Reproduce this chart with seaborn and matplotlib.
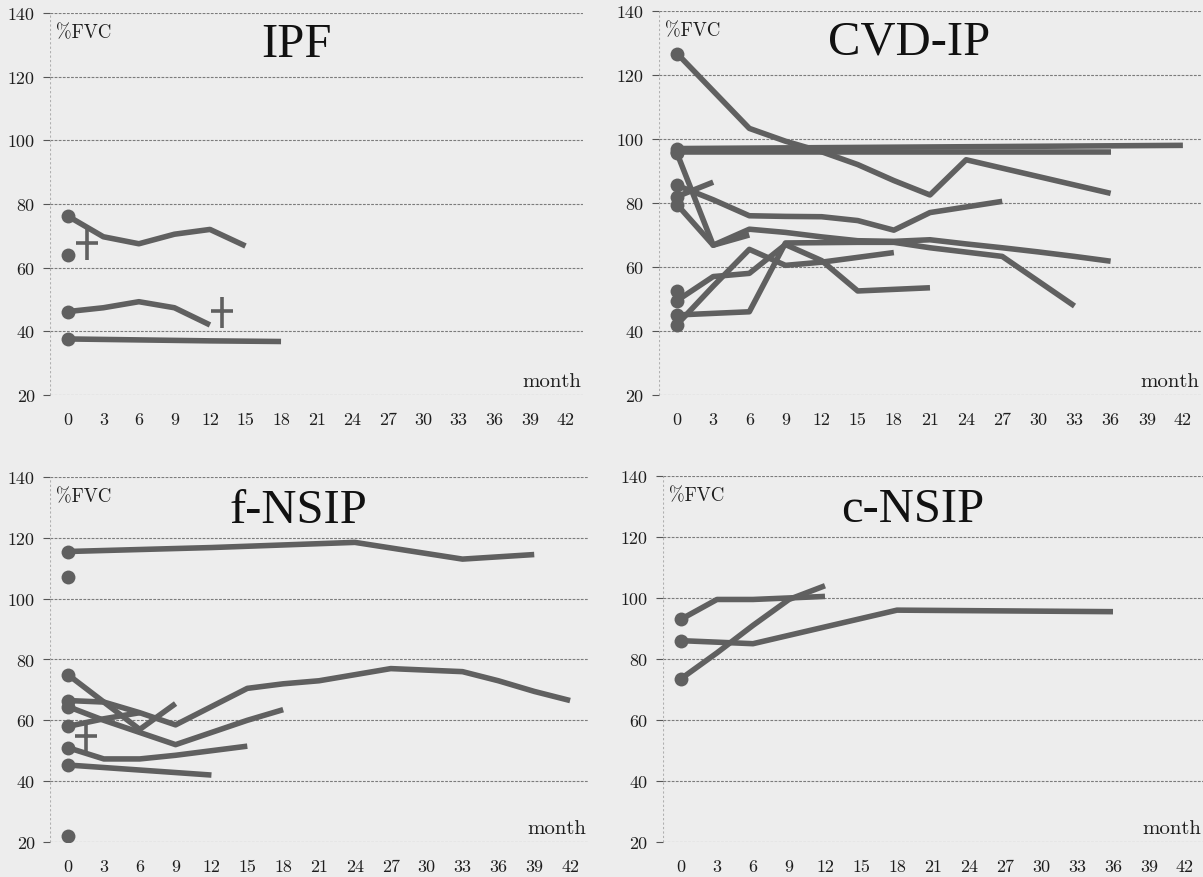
import matplotlib
matplotlib.use("Agg")
import matplotlib.pyplot as plt
from matplotlib.path import Path
import numpy as np
import pandas as pd
import seaborn as sns

# ---------------------------------------------------------------- data
MONTH_TICKS = list(range(0, 43, 3))
FVC_TICKS = [20, 40, 60, 80, 100, 120, 140]
PANEL_TITLES = ["IPF", "CVD-IP", "f-NSIP", "c-NSIP"]

# IPF: one list of months / %FVC per patient
IPF_MONTHS = [[0, 3, 6, 9, 12, 15], [0], [0, 3, 6, 9, 12], [0, 6, 12, 18]]
IPF_FVC = [[76.2, 69.7, 67.5, 70.5, 72.0, 66.8], [64.0],
           [46.2, 47.4, 49.3, 47.4, 42.0], [37.6, 37.3, 37.0, 36.8]]
IPF_DEATH_MONTH = [1.6, 13.0]
IPF_DEATH_FVC = [67.8, 46.3]

# CVD-IP
CVD_MONTHS = [
    [0, 6, 9, 12, 15, 18, 21, 24, 36],
    [0, 42],
    [0, 36],
    [0, 3, 6],
    [0, 3],
    [0, 3, 6, 9, 12, 15, 18, 21, 27],
    [0, 3, 6, 9, 12, 15, 18, 21, 24, 27, 30, 33, 36],
    [0, 3, 6, 9, 12, 15, 18, 21, 27, 33],
    [0, 3, 6, 9, 12, 15, 18, 21],
    [0, 3, 6, 9, 12, 15, 18],
    [0],
]
CVD_FVC = [
    [126.7, 103.3, 99.3, 96.0, 92.0, 87.0, 82.5, 93.5, 83.0],
    [97.0, 98.0],
    [96.0, 96.0],
    [95.5, 66.8, 70.0],
    [82.0, 86.5],
    [85.5, 81.0, 76.0, 75.8, 75.7, 74.5, 71.5, 77.0, 80.5],
    [79.5, 66.8, 71.8, 70.8, 69.4, 68.2, 68.0, 68.5, 67.2, 66.0, 64.7, 63.3, 61.8],
    [45.0, 45.5, 46.0, 67.5, 67.6, 67.7, 67.7, 66.0, 63.3, 47.8],
    [49.5, 57.0, 58.0, 67.0, 62.0, 52.5, 53.0, 53.5],
    [42.0, 54.0, 65.5, 60.5, 61.5, 63.0, 64.5],
    [52.5],
]
CVD_DEATH_MONTH = []
CVD_DEATH_FVC = []

# f-NSIP
FNSIP_MONTHS = [
    [0, 12, 24, 33, 39],
    [0],
    [0, 3, 6, 9],
    [0, 3, 6, 9, 12, 15, 18, 21, 24, 27, 30, 33, 36, 39, 42],
    [0, 3, 6, 9, 12, 15, 18],
    [0, 3, 6],
    [0, 3, 6, 9, 12, 15],
    [0, 12],
    [0],
]
FNSIP_FVC = [
    [115.5, 116.8, 118.5, 113.0, 114.5],
    [107.0],
    [75.0, 66.0, 57.0, 65.5],
    [66.5, 66.0, 62.5, 58.5, 64.5, 70.5, 72.0, 73.0, 75.0, 77.0, 76.5, 76.0, 73.0, 69.5, 66.5],
    [64.5, 60.0, 56.0, 52.0, 56.0, 60.0, 63.5],
    [58.0, 60.5, 62.5],
    [51.0, 47.3, 47.3, 48.5, 50.0, 51.5],
    [45.3, 42.0],
    [22.0],
]
FNSIP_DEATH_MONTH = [1.5]
FNSIP_DEATH_FVC = [55.0]

# c-NSIP
CNSIP_MONTHS = [[0, 3, 6, 9, 12], [0, 6, 18, 36], [0, 3, 6, 9, 12]]
CNSIP_FVC = [[93.0, 99.5, 99.5, 100.0, 100.5], [86.0, 85.0, 96.0, 95.5],
             [73.5, 82.0, 91.0, 99.5, 104.0]]
CNSIP_DEATH_MONTH = []
CNSIP_DEATH_FVC = []

# ---------------------------------------------------------------- style
sns.set_theme(style="white")
plt.rcParams["font.family"] = ["cmr10", "DejaVu Serif"]
plt.rcParams["axes.formatter.use_mathtext"] = True
plt.rcParams["mathtext.fontset"] = "cm"

BG = "#ededed"
LINE = "#606060"
GRID = "#7c7c7c"
TICK = "#555555"
TEXT = "#1e1e1e"

# Latin-cross marker for deaths
CROSS = Path([(-0.7, 0.0), (0.7, 0.0), (0.0, 0.9), (0.0, -1.1)],
             [Path.MOVETO, Path.LINETO, Path.MOVETO, Path.LINETO])


def long_frame(months, values):
    rows = []
    for pid, (ms, vs) in enumerate(zip(months, values)):
        for m, v in zip(ms, vs):
            rows.append((pid, m, v))
    return pd.DataFrame(rows, columns=["patient", "month", "fvc"])


fig = plt.figure(figsize=(12.03, 8.78), dpi=100, facecolor=BG)

# axes rectangles in figure fractions
rects = [
    [0.0416, 0.5490, 0.4431, 0.4351],
    [0.5478, 0.5490, 0.4505, 0.4374],
    [0.0416, 0.0399, 0.4472, 0.4157],
    [0.5511, 0.0399, 0.4489, 0.4169],
]
panels = [
    (IPF_MONTHS, IPF_FVC, IPF_DEATH_MONTH, IPF_DEATH_FVC),
    (CVD_MONTHS, CVD_FVC, CVD_DEATH_MONTH, CVD_DEATH_FVC),
    (FNSIP_MONTHS, FNSIP_FVC, FNSIP_DEATH_MONTH, FNSIP_DEATH_FVC),
    (CNSIP_MONTHS, CNSIP_FVC, CNSIP_DEATH_MONTH, CNSIP_DEATH_FVC),
]
title_base = [126.6, 126.6, 125.2, 125.2]

for i, (rect, (months, fvc, dm, dv), title) in enumerate(zip(rects, panels, PANEL_TITLES)):
    ax = fig.add_axes(rect)
    ax.set_facecolor("none")
    df = long_frame(months, fvc)

    sns.lineplot(data=df, x="month", y="fvc", units="patient", estimator=None,
                 sort=False, color=LINE, lw=4.0, ax=ax, legend=False,
                 solid_joinstyle="round", solid_capstyle="butt", zorder=3)
    base = df[df["month"] == 0]
    sns.scatterplot(data=base, x="month", y="fvc", color=LINE, s=100,
                    linewidth=0, ax=ax, legend=False, zorder=4)
    if dm:
        ax.plot(dm, dv, linestyle="none", marker=CROSS, markersize=24,
                markeredgewidth=2.6, color=LINE, zorder=5)

    ax.set_xlim(-1.5, 43.5)
    ax.set_ylim(20, 140)
    for s in ax.spines.values():
        s.set_visible(False)

    ax.set_yticks(FVC_TICKS)
    ax.set_yticklabels([str(t) for t in FVC_TICKS])
    ax.yaxis.grid(True, linestyle=(0, (2.5, 1.2)), color=GRID, lw=0.8)
    ax.xaxis.grid(False)
    ax.axvline(-1.5, color="#b0b0b0", ls=(0, (2, 2)), lw=0.8, zorder=1)

    ax.set_xticks(MONTH_TICKS)
    ax.set_xticklabels([str(t) for t in MONTH_TICKS])
    ax.set_xticks(np.arange(-1.5, 44, 3), minor=True)
    ax.tick_params(axis="x", which="major", length=0, pad=12, labelsize=13,
                   labelcolor=TEXT)
    ax.tick_params(axis="x", which="minor", length=4, width=0.8, color=TICK,
                   direction="out")
    ax.tick_params(axis="y", which="major", length=5, width=0.8, color=TICK,
                   direction="out", pad=6, labelsize=13, labelcolor=TEXT,
                   left=True)
    ax.set_xlabel("")
    ax.set_ylabel("")

    ax.text(19.3, title_base[i], title, ha="center", va="baseline",
            fontsize=35, family=["Liberation Serif", "DejaVu Serif"],
            color="#111111", zorder=6)
    ax.text(0.011, 0.972, "%FVC", transform=ax.transAxes, ha="left", va="top",
            fontsize=13.5, color=TEXT)
    ax.text(0.997, 0.024, "month", transform=ax.transAxes, ha="right",
            va="baseline", fontsize=15, color=TEXT)

fig.savefig("out.png", dpi=100, facecolor=BG)
